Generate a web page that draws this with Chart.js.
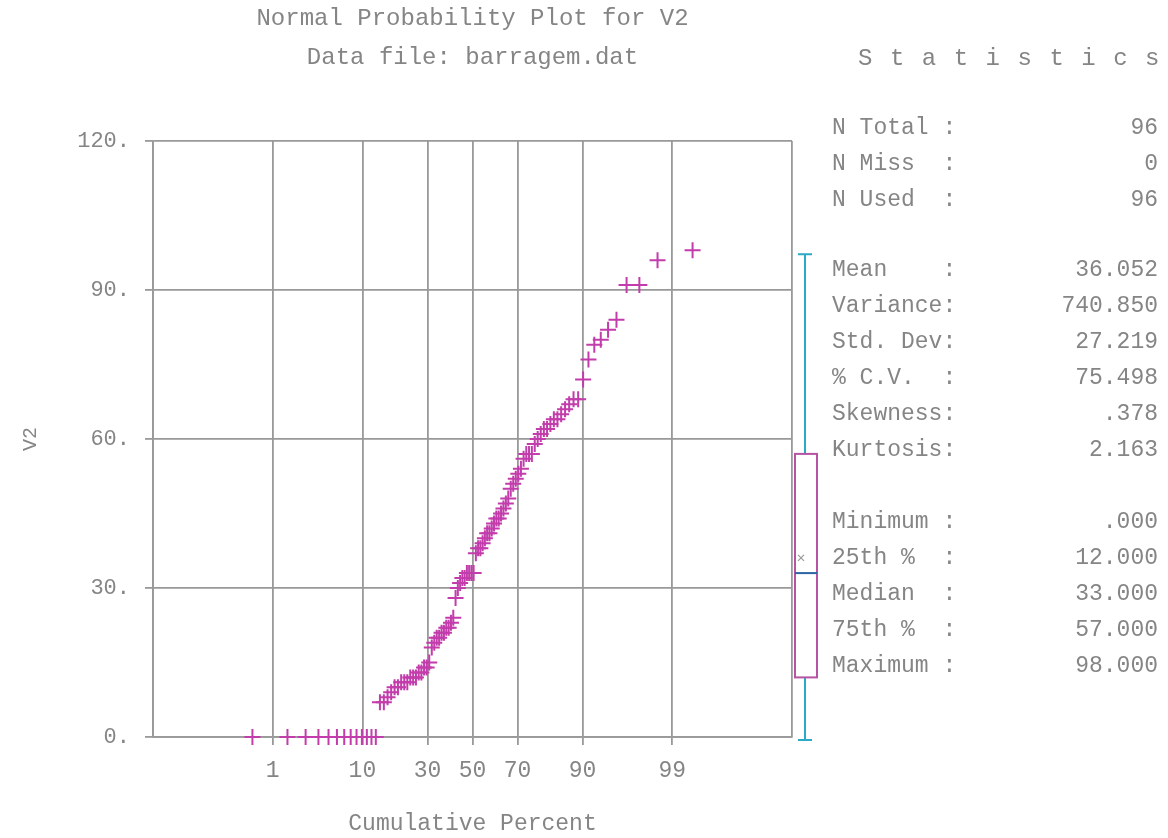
<!DOCTYPE html>
<html>
<head>
<meta charset="utf-8">
<title>Normal Probability Plot for V2</title>
<script src="https://cdn.jsdelivr.net/npm/chart.js@4.4.1/dist/chart.umd.min.js"></script>
<style>
  body { margin: 0; background: #fff; }
  #wrap { position: relative; width: 1168px; height: 838px; }
  #statsTitle { position: absolute; left: 858px; top: 45px; line-height: 36px;
    font: 24px "Liberation Mono", monospace; letter-spacing: 17.5px; color: #858585; }
  .row { position: absolute; left: 832px; width: 326px; line-height: 36px;
    font: 23px "Liberation Mono", monospace; color: #858585; white-space: pre; }
  .row .v { position: absolute; right: 0; top: 0; }
</style>
</head>
<body>
<div id="wrap">
  <canvas id="probChart"></canvas>
  <div id="statsTitle">Statistics</div>
  <div id="statsPanel"></div>
</div>
<script>
// data
const percentTicks = [1, 10, 30, 50, 70, 90, 99];
const yTicks = [0, 30, 60, 90, 120];
const sortedV2 = [
  0, 0, 0, 0, 0, 0, 0, 0, 0, 0, 0, 0, 0,
  7, 7, 8, 9, 10, 10, 11, 11, 11,
  12, 12, 12, 13, 13, 14, 14,
  15, 18, 19, 20, 20, 21, 21, 22, 22, 23, 24,
  28, 30, 31, 32, 32, 33, 33, 33, 33,
  37, 38, 38, 39, 40, 41, 41, 42, 43, 44, 44, 45, 46, 47, 48,
  50, 51, 52, 53, 54, 56, 57, 57, 57,
  59, 60, 61, 62, 62, 63, 64, 64, 65, 66, 67, 68, 68,
  72, 76, 79, 80, 82, 84, 91, 91, 96, 98,
];
const boxValues = [0, 12, 33, 57, 98]; // min, q1, median, q3, max
const meanV2 = 36.052;

const statLabels = [
  ["N Total :", "N Miss  :", "N Used  :"],
  ["Mean    :", "Variance:", "Std. Dev:", "% C.V.  :", "Skewness:", "Kurtosis:"],
  ["Minimum :", "25th %  :", "Median  :", "75th %  :", "Maximum :"],
];
const statValues = [
  ["96", "0", "96"],
  ["36.052", "740.850", "27.219", "75.498", ".378", "2.163"],
  [".000", "12.000", "33.000", "57.000", "98.000"],
];
const statGroupTops = [115, 257, 509];

const textColor = "#858585";
const gridColor = "#999999";
const markColor = "#c23dab";

// inverse normal CDF (Acklam)
function probit(p) {
  const a = [-39.69683028665376, 220.9460984245205, -275.9285104469687, 138.3577518672690, -30.66479806614716, 2.506628277459239];
  const b = [-54.47609879822406, 161.5858368580409, -155.6989798598866, 66.80131188771972, -13.28068155288572];
  const c = [-0.007784894002430293, -0.3223964580411365, -2.400758277161838, -2.549732539343734, 4.374664141464968, 2.938163982698783];
  const d = [0.007784695709041462, 0.3224671290700398, 2.445134137142996, 3.754408661907416];
  const pl = 0.02425;
  let q, r;
  if (p < pl) {
    q = Math.sqrt(-2 * Math.log(p));
    return (((((c[0]*q+c[1])*q+c[2])*q+c[3])*q+c[4])*q+c[5]) / ((((d[0]*q+d[1])*q+d[2])*q+d[3])*q+1);
  }
  if (p > 1 - pl) {
    q = Math.sqrt(-2 * Math.log(1 - p));
    return -(((((c[0]*q+c[1])*q+c[2])*q+c[3])*q+c[4])*q+c[5]) / ((((d[0]*q+d[1])*q+d[2])*q+d[3])*q+1);
  }
  q = p - 0.5; r = q * q;
  return (((((a[0]*r+a[1])*r+a[2])*r+a[3])*r+a[4])*r+a[5])*q / (((((b[0]*r+b[1])*r+b[2])*r+b[3])*r+b[4])*r+1);
}

const n = sortedV2.length;
const points = sortedV2.map((v, i) => ({ x: probit((i + 0.5) / n), y: v }));
const zEdge = -probit(0.0001);

// stats panel
const panel = document.getElementById("statsPanel");
statLabels.forEach((group, g) => {
  group.forEach((label, k) => {
    const row = document.createElement("div");
    row.className = "row";
    row.style.top = (statGroupTops[g] + k * 36) + "px";
    row.textContent = label;
    const val = document.createElement("span");
    val.className = "v";
    val.textContent = statValues[g][k];
    row.appendChild(val);
    panel.appendChild(row);
  });
});

// titles over the plot area
const titlePlugin = {
  id: "plotTitle",
  afterDraw(chart) {
    const { ctx, chartArea } = chart;
    const cx = (chartArea.left + chartArea.right) / 2;
    ctx.save();
    ctx.fillStyle = textColor;
    ctx.font = '24px "Liberation Mono", monospace';
    ctx.textAlign = "center";
    ctx.textBaseline = "middle";
    ctx.fillText("Normal Probability Plot for V2", cx, 19);
    ctx.fillText("Data file: barragem.dat", cx, 58);
    ctx.restore();
  },
};

// box plot to the right of the plot, on the same y scale
const boxPlugin = {
  id: "sideBox",
  afterDraw(chart) {
    const { ctx, chartArea } = chart;
    const y = chart.scales.y;
    const left = chartArea.right + 3;
    const right = left + 22;
    const cx = left + 10;
    const [mn, q1, med, q3, mx] = boxValues.map((v) => y.getPixelForValue(v));
    ctx.save();
    ctx.lineWidth = 2;
    ctx.strokeStyle = "#2aaac6";
    ctx.beginPath();
    ctx.moveTo(cx, mn + 3); ctx.lineTo(cx, mx + 4);
    ctx.moveTo(cx - 7, mx + 4); ctx.lineTo(cx + 7, mx + 4);
    ctx.moveTo(cx - 7, mn + 3); ctx.lineTo(cx + 7, mn + 3);
    ctx.stroke();
    ctx.fillStyle = "#fff";
    ctx.fillRect(left, q3, right - left, q1 - q3);
    ctx.strokeStyle = "#b454a2";
    ctx.strokeRect(left, q3, right - left, q1 - q3);
    ctx.strokeStyle = "#2a64a4";
    ctx.beginPath();
    ctx.moveTo(left, med); ctx.lineTo(right, med);
    ctx.stroke();
    const my = y.getPixelForValue(meanV2);
    ctx.strokeStyle = "#999";
    ctx.lineWidth = 1.2;
    ctx.beginPath();
    ctx.moveTo(cx - 7, my - 3); ctx.lineTo(cx - 1, my + 3);
    ctx.moveTo(cx - 7, my + 3); ctx.lineTo(cx - 1, my - 3);
    ctx.stroke();
    ctx.restore();
  },
};

const isEdge = (index) => index === 0 || index === percentTicks.length + 1;

const probCtx = document.getElementById("probChart").getContext("2d");
new Chart(probCtx, {
  type: "scatter",
  data: {
    datasets: [
      {
        label: "V2",
        data: points,
        pointStyle: "cross",
        radius: 8,
        hoverRadius: 8,
        borderWidth: 2,
        borderColor: markColor,
        backgroundColor: markColor,
        clip: false,
      },
    ],
  },
  options: {
    responsive: true,
    maintainAspectRatio: false,
    animation: false,
    events: [],
    layout: {
      padding: { top: 141, right: 376, bottom: 0, left: 0 },
    },
    plugins: {
      legend: { display: false },
      tooltip: { enabled: false },
    },
    scales: {
      x: {
        type: "linear",
        min: -zEdge,
        max: zEdge,
        afterBuildTicks: (axis) => {
          axis.ticks = [-zEdge, ...percentTicks.map((p) => probit(p / 100)), zEdge].map((v) => ({ value: v }));
        },
        afterFit: (axis) => {
          axis.height = 101;
        },
        ticks: {
          autoSkip: false,
          maxRotation: 0,
          padding: 12,
          color: textColor,
          font: { family: '"Liberation Mono", monospace', size: 23 },
          callback: (value, index) => (isEdge(index) ? "" : String(percentTicks[index - 1])),
        },
        grid: {
          color: gridColor,
          lineWidth: 1.8,
          tickLength: 8,
          tickColor: (ctx) => (isEdge(ctx.index) ? "rgba(0,0,0,0)" : gridColor),
        },
        border: { color: gridColor, width: 1.8 },
        title: {
          display: true,
          text: "Cumulative Percent",
          color: textColor,
          font: { family: '"Liberation Mono", monospace', size: 23 },
          padding: { top: 0, bottom: 0 },
        },
      },
      y: {
        min: yTicks[0],
        max: yTicks[yTicks.length - 1],
        afterBuildTicks: (axis) => {
          axis.ticks = yTicks.map((v) => ({ value: v }));
        },
        afterFit: (axis) => {
          axis.width = 153;
        },
        ticks: {
          padding: 15,
          color: textColor,
          font: { family: '"Liberation Mono", monospace', size: 22 },
          callback: (value) => value + ".",
        },
        grid: {
          color: gridColor,
          lineWidth: 1.8,
          tickLength: 8,
        },
        border: { color: gridColor, width: 1.8 },
        title: {
          display: true,
          text: "V2",
          color: textColor,
          font: { family: '"Liberation Mono", monospace', size: 20 },
          padding: { top: 19, bottom: 0 },
        },
      },
    },
  },
  plugins: [titlePlugin, boxPlugin],
});
</script>
</body>
</html>
